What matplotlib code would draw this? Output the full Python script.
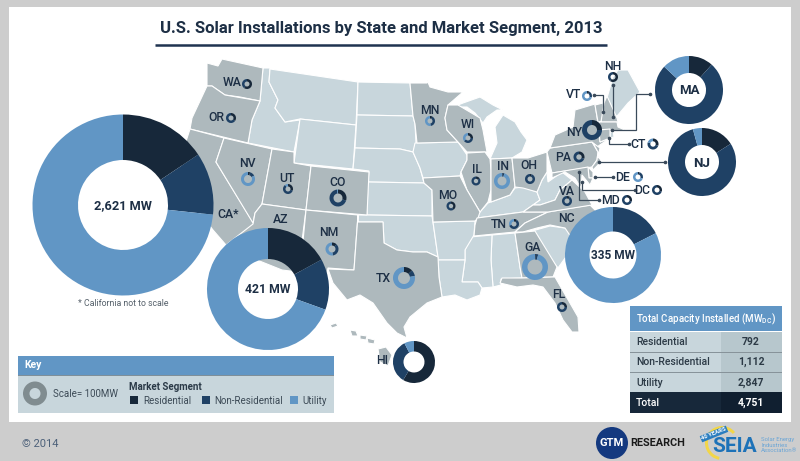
#!/usr/bin/env python3
"""U.S. solar installations by state and market segment, 2013 (map with donuts)."""
import matplotlib
matplotlib.use("Agg")
import matplotlib.pyplot as plt
from matplotlib.patches import Rectangle, Circle, Wedge

plt.rcParams["font.family"] = ["Roboto", "DejaVu Sans"]
plt.rcParams["mathtext.default"] = "regular"

RES_C = "#17283a"
NON_C = "#1f4165"
UTL_C = "#6196c5"
LIGHT = "#c8d6dc"
GRAY = "#aeb9bd"
INK = "#1d2f45"

# share of each state's capacity, percent
STATES = ["CA", "AZ", "NC", "MA", "NJ", "HI", "TX", "GA", "IN", "NV", "NM", "CO", "NY",
          "MN", "WI", "WA", "OR", "UT", "IL", "MO", "OH", "PA", "VA", "TN", "FL", "NH",
          "VT", "CT", "DE", "DC", "MD"]
RESIDENTIAL = [15.6, 17, 0, 11.6, 16, 58.6, 13, 1, 1, 5, 12, 30, 25,
               8, 25, 60, 35, 30, 15, 40, 5, 30, 10, 10, 25, 60,
               8, 30, 5, 30, 30]
NON_RESIDENTIAL = [11.1, 13.5, 17.5, 75.4, 79.7, 33.9, 9, 3, 4, 12, 36, 68, 75,
                   40, 40, 40, 65, 60, 85, 60, 95, 70, 90, 60, 75, 40,
                   22, 50, 25, 70, 70]
UTILITY = [73.3, 69.5, 82.5, 13, 4.3, 7.5, 78, 96, 95, 83, 52, 2, 0,
           52, 35, 0, 0, 10, 0, 0, 0, 0, 0, 30, 0, 0,
           70, 20, 70, 0, 0]

SEGMENTS = ["Residential", "Non-Residential", "Utility"]
TOTAL_CAPACITY = ["792", "1,112", "2,847", "4,751"]
TABLE_ROWS = SEGMENTS + ["Total"]

# donut layout: centre x, centre y, outer radius, inner radius (pixels)
DONUTS = {
    "CA": (123, 205, 90.5, 45), "AZ": (268, 289, 61, 30), "NC": (613, 255, 48, 23.5),
    "MA": (689, 90, 34, 17), "NJ": (702, 162, 34, 17), "HI": (414, 362, 21, 10.5),
    "TX": (404, 278, 11, 6), "GA": (535, 267, 13, 7.5), "IN": (502, 181, 8, 4.5),
    "NV": (248, 179, 7, 4), "NM": (332, 249, 6.5, 3.5), "CO": (338, 198, 8.5, 4.5),
    "NY": (592, 130, 10, 5), "MN": (430, 121, 5, 2.5), "WI": (468, 138, 5, 2.5),
    "WA": (247, 84, 5, 2.5), "OR": (231, 118, 5, 2.5), "UT": (288, 189, 5, 2.5),
    "IL": (476, 181, 4.5, 2.2), "MO": (451, 206, 4.5, 2.2), "OH": (530, 179, 5, 2.5),
    "PA": (579, 157, 5.5, 2.7), "VA": (567, 201, 5, 2.5), "TN": (514, 224, 5, 2.5),
    "FL": (562, 307, 5, 2.5), "NH": (613, 77, 5, 2.5), "VT": (587, 96, 5, 2.5),
    "CT": (653, 144, 5.5, 2.7), "DE": (638, 177, 5, 2.5), "DC": (657, 190, 5, 2.5),
    "MD": (627, 200, 5, 2.5),
}

LABELS = {
    "WA": (232, 83), "OR": (216, 117), "NV": (247, 163), "UT": (287, 178), "CO": (338, 182),
    "CA*": (228, 214), "AZ": (281, 219), "NM": (329, 232), "MN": (430, 110), "WI": (468, 124),
    "IL": (477, 169), "MO": (448, 195), "TX": (383, 278), "HI": (382, 360), "IN": (503, 166),
    "OH": (529, 165), "PA": (563, 157), "NY": (574, 132), "VA": (567, 191), "NC": (566, 218),
    "TN": (499, 224), "GA": (533, 247), "FL": (559, 294), "NH": (613, 66), "VT": (574, 95),
    "CT": (638, 144), "DE": (623, 177), "DC": (642, 190), "MD": (611, 200),
}

LEADERS = [
    [(594, 95), (603, 95), (603, 112)],
    [(613, 85), (613, 117)],
    [(612, 130), (636, 130), (636, 94), (650, 94)],
    [(609, 138), (609, 144), (629, 144)],
    [(599, 162), (665, 162)],
    [(595, 177), (613, 177)],
    [(582, 182), (582, 190), (635, 190)],
    [(579, 172), (579, 200), (599, 200)],
]

# state outlines traced in image pixels
LIGHT_STATES = {
    "ID": [(263, 68), (270, 68), (269, 82), (278, 100), (275, 108), (285, 122), (300, 120),
           (294, 152), (248, 143), (252, 120), (260, 101)],
    "MT": [(270, 69), (358, 82), (356, 125), (300, 119), (285, 122), (275, 108), (278, 100), (269, 82)],
    "WY": [(300, 119), (356, 125), (353, 169), (294, 163)],
    "ND": [(358, 82), (410, 83), (413, 116), (357, 115)],
    "SD": [(357, 115), (413, 116), (415, 124), (416, 143), (413, 152), (400, 149), (355, 148)],
    "NE": [(355, 148), (400, 149), (413, 152), (420, 168), (424, 183), (368, 182), (369, 171), (353, 169)],
    "KS": [(368, 182), (424, 183), (432, 190), (432, 216), (367, 215)],
    "OK": [(358, 215), (367, 215), (432, 216), (433, 222), (438, 257), (427, 252), (413, 252), (397, 250),
           (384, 243), (383, 222), (358, 222)],
    "IA": [(415, 143), (458, 142), (467, 155), (467, 160), (461, 172), (460, 176), (423, 178),
           (420, 168), (413, 152)],
    "MI1": [(453, 107), (463, 103), (480, 97), (493, 105), (503, 110), (497, 110), (487, 117),
            (483, 123), (475, 113), (467, 107)],
    "MI2": [(503, 115), (515, 122), (521, 132), (527, 140), (522, 152), (512, 158), (490, 159),
            (497, 143), (495, 127)],
    "KY": [(515, 188), (523, 187), (537, 192), (540, 200), (533, 205), (523, 212), (477, 218),
           (479, 213), (488, 203), (510, 195)],
    "WV": [(547, 172), (548, 182), (562, 172), (572, 180), (560, 190), (555, 200), (540, 205),
           (533, 205), (540, 200), (537, 192), (542, 180)],
    "SC": [(532, 231), (550, 226), (565, 228), (578, 240), (558, 268), (548, 256)],
    "AL": [(492, 235), (515, 233), (520, 267), (522, 278), (501, 279), (501, 285), (493, 287), (491, 260)],
    "MS": [(470, 237), (492, 235), (491, 260), (493, 287), (482, 288), (478, 282), (462, 282),
           (465, 260), (465, 250)],
    "AR": [(433, 222), (475, 221), (474, 235), (465, 250), (465, 260), (438, 260), (438, 257)],
    "LA": [(438, 260), (465, 260), (462, 282), (478, 282), (482, 288), (480, 295), (467, 300),
           (455, 295), (442, 297), (439, 277)],
    "ME": [(613, 77), (618, 70), (628, 70), (640, 92), (628, 103), (618, 115), (615, 117), (607, 98)],
    "RI": [(610, 129), (613, 130), (614, 137), (610, 138)],
}
GRAY_STATES = {
    "WA": [(207, 63), (218, 66), (222, 59), (263, 68), (260, 101), (240, 97), (225, 95), (212, 86), (207, 86)],
    "OR": [(207, 86), (212, 86), (225, 95), (260, 101), (252, 120), (248, 143), (190, 129), (192, 118)],
    "CA": [(190, 129), (224, 138), (216, 162), (254, 224), (252, 240), (226, 245), (213, 230), (190, 200), (180, 160)],
    "NV": [(224, 138), (272, 149), (262, 204), (255, 213), (253, 223), (216, 162)],
    "UT": [(272, 149), (294, 152), (294, 163), (311, 166), (306, 210), (262, 204)],
    "CO": [(311, 166), (369, 172), (367, 215), (306, 210)],
    "AZ": [(262, 204), (306, 210), (298, 272), (282, 270), (252, 258), (226, 245), (253, 224), (255, 213)],
    "NM": [(306, 210), (358, 215), (354, 270), (328, 268), (327, 274), (300, 272)],
    "TX": [(358, 215), (358, 222), (383, 222), (384, 243), (397, 250), (413, 252), (427, 252), (438, 257),
           (439, 277), (442, 297), (427, 303), (410, 317), (404, 327), (407, 338), (397, 333), (387, 323),
           (373, 303), (360, 295), (347, 300), (333, 283), (328, 269), (354, 270)],
    "MN": [(410, 83), (427, 83), (427, 80), (430, 87), (448, 92), (463, 92), (448, 105), (445, 118),
           (447, 130), (458, 142), (417, 143), (415, 124), (413, 116)],
    "WI": [(448, 105), (458, 105), (480, 118), (483, 130), (487, 152), (467, 152), (458, 142), (447, 130), (445, 118)],
    "IL": [(467, 153), (485, 152), (490, 159), (491, 170), (491, 190), (488, 202), (480, 212), (467, 190), (461, 172), (467, 160)],
    "IN": [(491, 159), (512, 158), (515, 187), (510, 195), (491, 202)],
    "OH": [(512, 158), (528, 158), (547, 152), (547, 172), (542, 180), (537, 192), (523, 188), (515, 187)],
    "MO": [(423, 178), (460, 176), (467, 190), (480, 212), (478, 218), (475, 221), (433, 222), (432, 190), (424, 183)],
    "TN": [(474, 236), (515, 232), (525, 223), (548, 212), (527, 212), (523, 212), (477, 218), (475, 225)],
    "NC": [(525, 223), (548, 212), (590, 205), (600, 215), (573, 240), (565, 228), (550, 225), (537, 228), (523, 232), (515, 232)],
    "VA": [(523, 212), (533, 205), (540, 205), (555, 200), (560, 190), (572, 180), (585, 192), (592, 205), (548, 212)],
    "GA": [(515, 233), (535, 231), (557, 267), (553, 277), (522, 278), (520, 267)],
    "FL": [(502, 278), (522, 278), (553, 277), (555, 277), (578, 317), (579, 332), (572, 332), (563, 320),
           (555, 303), (543, 287), (533, 285), (517, 287), (500, 283)],
    "PA": [(547, 152), (550, 148), (592, 142), (598, 152), (597, 160), (592, 167), (552, 173)],
    "NY": [(550, 148), (555, 135), (573, 127), (575, 110), (595, 104), (599, 130), (600, 142), (610, 138),
           (597, 147), (592, 142)],
    "VT": [(595, 105), (603, 103), (604, 112), (601, 122), (598, 122)],
    "NH": [(604, 103), (607, 96), (617, 118), (618, 122), (599, 122), (601, 122)],
    "MA": [(599, 122), (617, 122), (618, 127), (625, 130), (612, 132), (599, 129)],
    "CT": [(599, 130), (610, 129), (610, 138), (600, 142)],
    "NJ": [(593, 143), (600, 148), (598, 157), (601, 160), (598, 165), (593, 170), (592, 167), (597, 160), (598, 152)],
    "DE": [(588, 167), (593, 172), (593, 178), (589, 178)],
    "MD": [(552, 173), (588, 167), (589, 178), (593, 178), (590, 185), (582, 175), (581, 188), (575, 178),
           (565, 172), (552, 178)],
    "HI1": [(378, 349), (386, 347), (392, 355), (388, 366), (380, 362)],
    "HI2": [(350, 330), (356, 331), (358, 336), (352, 336)],
    "HI3": [(360, 335), (367, 336), (366, 340), (360, 339)],
    "HI4": [(367, 338), (375, 340), (374, 344), (368, 343)],
    "HI5": [(330, 325), (336, 323), (338, 326), (332, 328)],
}


def rect(ax, x0, y0, x1, y1, color, z=1):
    ax.add_patch(Rectangle((x0, y0), x1 - x0, y1 - y0, facecolor=color, edgecolor="none", zorder=z))


def main():
    fig = plt.figure(figsize=(8, 4.61), dpi=100, facecolor="#cdcdcd")
    ax = fig.add_axes([0, 0, 1, 1])

    rect(ax, 9, 7, 791, 422, "white", z=0)

    for pts in LIGHT_STATES.values():
        ax.fill(*zip(*pts), facecolor=LIGHT, edgecolor="white", linewidth=0.8)
    for pts in GRAY_STATES.values():
        ax.fill(*zip(*pts), facecolor=GRAY, edgecolor="white", linewidth=0.8)

    # y axis runs downward, so increasing angle from 270 goes clockwise on screen
    for i, st in enumerate(STATES):
        cx, cy, r, hole = DONUTS[st]
        ax.pie([RESIDENTIAL[i], NON_RESIDENTIAL[i], UTILITY[i]], colors=[RES_C, NON_C, UTL_C],
               center=(cx, cy), radius=r, startangle=270, counterclock=True, frame=True,
               wedgeprops={"width": r - hole, "linewidth": 0})

    for path in LEADERS:
        ax.plot(*zip(*path), color="#3a4a5a", lw=0.9, zorder=2, solid_joinstyle="miter")
        ax.plot(*path[0], "o", ms=1.6, color="#3a4a5a", zorder=2)
        ax.plot(*path[-1], "o", ms=1.6, color="#3a4a5a", zorder=2)

    for name, (x, y) in LABELS.items():
        ax.text(x, y, name, ha="center", va="center", fontsize=8.8, fontweight="medium", color=INK)
    for name in ["MA", "NJ"]:
        ax.text(DONUTS[name][0], DONUTS[name][1] + 1, name, ha="center", va="center",
                fontsize=9.5, fontweight="bold", color=INK)
    for name, txt, size in [("CA", "2,621 MW", 9.2), ("AZ", "421 MW", 8.8), ("NC", "335 MW", 8.6)]:
        ax.text(DONUTS[name][0], DONUTS[name][1] + 0.5, txt, ha="center", va="center",
                fontsize=size, fontweight="bold", color=INK)
    ax.text(123, 303, "* California not to scale", ha="center", va="center", fontsize=6.3, color="#55606a")

    # title
    ax.text(381, 29, "U.S. Solar Installations by State and Market Segment, 2013", ha="center", va="center",
            fontsize=12, fontweight="bold", color=INK)
    ax.plot([155, 607], [45, 45], color="#1f3350", lw=1.8, solid_capstyle="butt")

    # key
    rect(ax, 17.5, 356, 334, 375, UTL_C)
    rect(ax, 17.5, 375, 334, 376, "#7f8f99")
    rect(ax, 17.5, 376, 334, 413, LIGHT)
    ax.text(24, 365, "Key", ha="left", va="center", fontsize=7.5, fontweight="bold", color="white")
    ax.add_patch(Wedge((35, 393.5), 12, 0, 360, width=6.5, facecolor="#808c90", edgecolor="none"))
    ax.text(53, 393.5, "Scale= 100MW", ha="left", va="center", fontsize=7, color="#3c4a56")
    ax.text(129, 387, "Market Segment", ha="left", va="center", fontsize=7, fontweight="bold", color="#2b3a48")
    for seg, col, sx, tx in zip(SEGMENTS, [RES_C, NON_C, UTL_C], [130, 202, 290], [143, 214, 302]):
        rect(ax, sx, 396, sx + 8, 404, col)
        ax.text(tx, 400.5, seg, ha="left", va="center", fontsize=7, color="#3c4a56")

    # capacity table
    rect(ax, 630, 306, 782, 331, UTL_C)
    ax.text(636, 319, r"Total Capacity Installed (MW$_{DC}$)", ha="left", va="center",
            fontsize=7, fontweight="medium", color="white")
    tops = [332, 353, 373, 392]
    bots = [351.5, 371.5, 392, 413]
    for i, (name, val) in enumerate(zip(TABLE_ROWS, TOTAL_CAPACITY)):
        last = i == len(TABLE_ROWS) - 1
        rect(ax, 630, tops[i], 721, bots[i], RES_C if last else LIGHT)
        rect(ax, 721, tops[i], 782, bots[i], "#101f30" if last else "#b7c7cd")
        if not last:
            rect(ax, 630, bots[i], 782, tops[i + 1], "#87939a")
        col = "white" if last else "#2c3a46"
        mid = (tops[i] + bots[i]) / 2
        ax.text(636, mid, name, ha="left", va="center", fontsize=7.5, fontweight="medium", color=col)
        ax.text(751, mid, val, ha="center", va="center", fontsize=7.5, fontweight="bold", color=col)

    # footer
    ax.text(22, 444, "© 2014", ha="left", va="center", fontsize=8, color="#4c6079")
    ax.add_patch(Circle((612, 443), 16, facecolor="#14397f", edgecolor="none"))
    ax.text(612, 443, "GTM", ha="center", va="center", fontsize=8, fontweight="bold", color="white")
    ax.text(658, 443, "RESEARCH", ha="center", va="center", fontsize=7.8, fontweight="bold", color="#1a1a1a")
    ax.add_patch(Wedge((722, 443), 17, 100, 320, width=3, facecolor="#f2d649", edgecolor="none"))
    ax.text(735, 446, "SEIA", ha="center", va="center", fontsize=15, fontweight="bold", color="#1d72b8")
    ax.text(714, 434, "40 YEARS", ha="center", va="center", rotation=22, fontsize=4.2, fontweight="bold",
            color="white", bbox={"facecolor": "#2a7dbf", "edgecolor": "none", "pad": 0.6})
    ax.text(761, 445, "Solar Energy\nIndustries\nAssociation®", ha="left", va="center", fontsize=4.3,
            color="#6aa5d6", linespacing=1.1)

    ax.set_xlim(0, 800)
    ax.set_ylim(461, 0)
    ax.set_aspect("auto")
    ax.axis("off")
    fig.savefig("out.png", dpi=100, facecolor=fig.get_facecolor())


if __name__ == "__main__":
    main()
